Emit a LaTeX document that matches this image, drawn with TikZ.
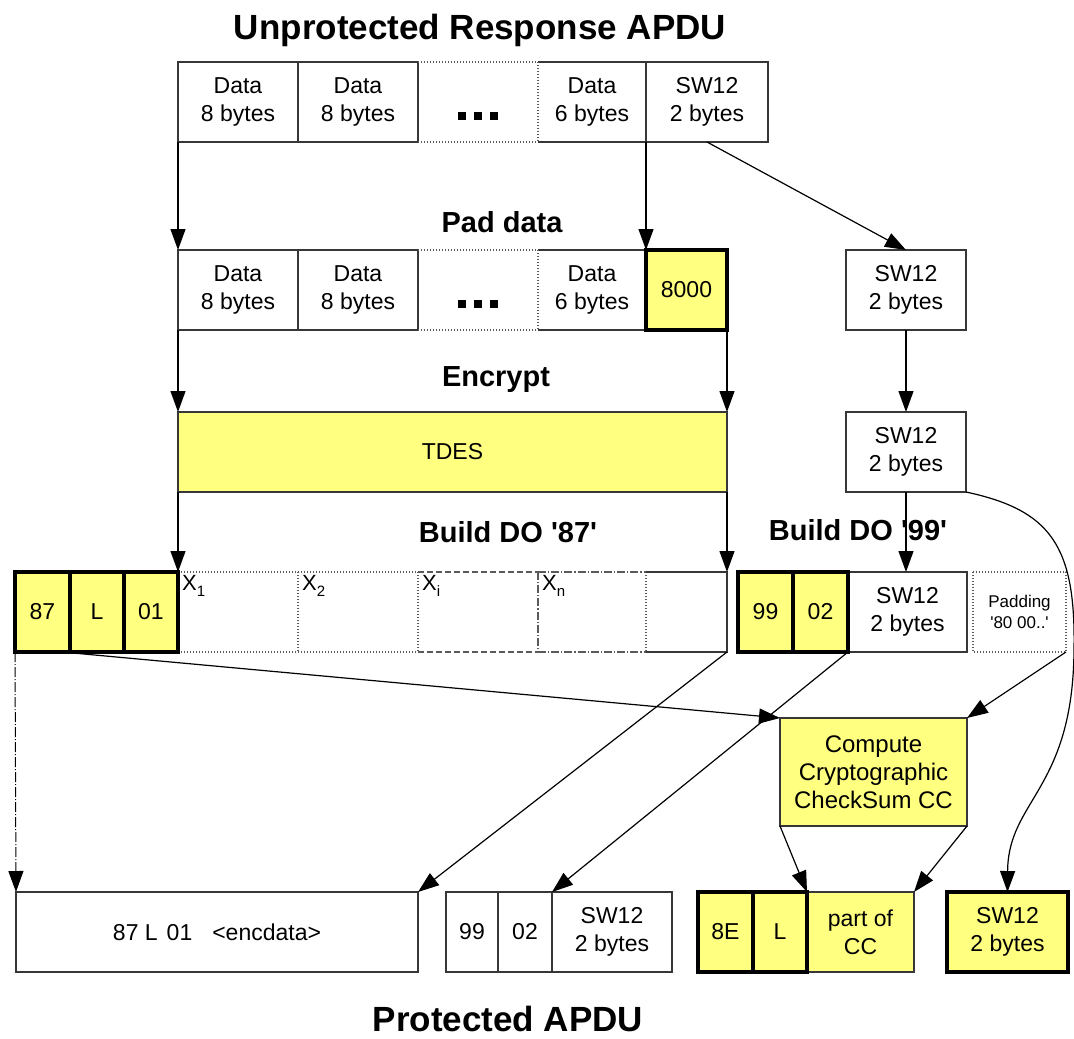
\documentclass[tikz,border=0pt]{standalone}
\usepackage{fontspec}
\setmainfont{Liberation Sans}
\usetikzlibrary{arrows.meta}
\definecolor{cellyellow}{RGB}{255,255,128}
\definecolor{linegray}{RGB}{55,55,55}
\definecolor{softgray}{RGB}{90,90,90}
\newcommand\bodyfont{\fontsize{23}{28}\selectfont}
\newcommand\headfont{\fontsize{29}{34}\selectfont\bfseries}
\newcommand\titlefont{\fontsize{35}{40}\selectfont\bfseries}
\newcommand\padfont{\fontsize{17}{21}\selectfont}
\newcommand\ccfont{\fontsize{24}{28}\selectfont}
\newcommand\xfont{\fontsize{22}{22}\selectfont}
\newcommand\sqdots{\rule{8pt}{8pt}\hspace{8pt}\rule{8pt}{8pt}\hspace{8pt}\rule{8pt}{8pt}}
\newcommand\xlab[1]{X\raisebox{-6pt}{\fontsize{15}{15}\selectfont #1}}
\begin{document}
\begin{tikzpicture}[x=1pt,y=-1pt,
  cell/.style={draw=linegray, line width=1.2pt, inner sep=0pt, outer sep=0pt,
    anchor=north west, align=center, font=\bodyfont, minimum height=80pt},
  open/.style={cell, draw=none},
  ycell/.style={cell, fill=cellyellow},
  boldcell/.style={ycell, draw=black, line width=4pt},
  title/.style={font=\titlefont, inner sep=0pt},
  head/.style={font=\headfont, inner sep=0pt},
  xlabel/.style={font=\xfont, inner sep=0pt, anchor=north west},
  sqnode/.style={inner sep=0pt},
  solidline/.style={draw=linegray, line width=1.2pt},
  dotline/.style={draw=softgray, line width=1.2pt, dash pattern=on 1.2pt off 1.8pt},
  dashline/.style={draw=softgray, line width=1.2pt, dash pattern=on 6pt off 3pt},
  ddline/.style={draw=softgray, line width=1.2pt, dash pattern=on 8pt off 2pt on 1.2pt off 2pt},
  arr/.style={draw=black, line width=1.2pt, -{Triangle[length=21pt,width=15pt]}},
]
\useasboundingbox[fill=white] (0,0) rectangle (1074,1039);

% ---------- titles ----------
\node[title] (ttop) at (480,30) {Unprotected Response APDU};
\node[head] (tpad) at (502,222) {Pad data};
\node[head] (tenc) at (496,380) {Encrypt};
\node[head] (t87) at (508,532) {Build DO \textquotesingle 87\textquotesingle};
\node[head] (t99) at (858,530) {Build DO \textquotesingle 99\textquotesingle};
\node[title] (tbot) at (508,1019) {Protected APDU};

% ---------- unprotected response ----------
\node[cell, minimum width=120pt] (t1) at (178,62) {Data\\8 bytes};
\node[cell, minimum width=120pt] (t2) at (298,62) {Data\\8 bytes};
\node[open, minimum width=120pt] (t3) at (418,62) {};
\node[open, minimum width=108pt] (t4) at (538,62) {Data\\6 bytes};
\node[cell, minimum width=122pt] (t5) at (646,62) {SW12\\2 bytes};
\node[sqnode] (tdots) at ([yshift=-14pt]t3.center) {\sqdots};
\draw[dotline] (t3.north west) -- (t3.north east) (t3.south west) -- (t3.south east);
\draw[solidline] (t4.north west) -- (t4.north east) -- (t4.south east) -- (t4.south west);
\draw[dotline] (t4.north west) -- (t4.south west);

% ---------- padded data ----------
\node[cell, minimum width=120pt] (p1) at (178,250) {Data\\8 bytes};
\node[cell, minimum width=120pt] (p2) at (298,250) {Data\\8 bytes};
\node[open, minimum width=120pt] (p3) at (418,250) {};
\node[open, minimum width=108pt] (p4) at (538,250) {Data\\6 bytes};
\node[sqnode] (pdots) at ([yshift=-14pt]p3.center) {\sqdots};
\draw[dotline] (p3.north west) -- (p3.north east) (p3.south west) -- (p3.south east);
\draw[solidline] (p4.north west) -- (p4.north east) -- (p4.south east) -- (p4.south west);
\draw[dotline] (p4.north west) -- (p4.south west);
\node[boldcell, minimum width=81pt] (p5) at (646,250) {8000};

% ---------- status word column ----------
\node[cell, minimum width=120pt] (s1) at (846,250) {SW12\\2 bytes};
\node[cell, minimum width=120pt] (s2) at (846,412) {SW12\\2 bytes};

% ---------- encryption ----------
\node[ycell, minimum width=549pt] (tdes) at (178,412) {TDES};

% ---------- DO '87' ----------
\node[open, minimum width=120pt] (x1) at (178,572) {};
\node[open, minimum width=120pt] (x2) at (298,572) {};
\node[open, minimum width=120pt] (x3) at (418,572) {};
\node[open, minimum width=108pt] (x4) at (538,572) {};
\node[open, minimum width=81pt] (x5) at (646,572) {};
\draw[dotline] (x1.north west) -- (x1.north east) (x1.south west) -- (x1.south east) (x1.north east) -- (x1.south east);
\draw[dotline] (x2.north west) -- (x2.north east) (x2.south west) -- (x2.south east) (x2.north east) -- (x2.south east);
\draw[dashline] (x3.north west) -- (x3.north east) (x3.south west) -- (x3.south east);
\draw[ddline] (x3.north east) -- (x3.south east);
\draw[ddline] (x4.north west) -- (x4.north east) (x4.south west) -- (x4.south east);
\draw[dotline] (x4.north east) -- (x4.south east);
\draw[solidline] (x5.north west) -- (x5.north east) -- (x5.south east) -- (x5.south west);
\node[xlabel] (lx1) at ([xshift=4pt,yshift=-3pt]x1.north west) {\xlab{1}};
\node[xlabel] (lx2) at ([xshift=4pt,yshift=-3pt]x2.north west) {\xlab{2}};
\node[xlabel] (lx3) at ([xshift=4pt,yshift=-3pt]x3.north west) {\xlab{i}};
\node[xlabel] (lx4) at ([xshift=4pt,yshift=-3pt]x4.north west) {\xlab{n}};
\node[boldcell, minimum width=55pt] (a1) at (15,572) {87};
\node[boldcell, minimum width=54pt] (a2) at (70,572) {L};
\node[boldcell, minimum width=54pt] (a3) at (124,572) {01};

% ---------- DO '99' ----------
\node[cell, minimum width=119pt] (b3) at (848,572) {SW12\\2 bytes};
\node[open, minimum width=93pt, font=\padfont] (b4) at (973,572) {Padding\\\textquotesingle 80 00..\textquotesingle};
\draw[dotline] (b4.north west) rectangle (b4.south east);
\node[boldcell, minimum width=55pt] (b1) at (738,572) {99};
\node[boldcell, minimum width=55pt] (b2) at (793,572) {02};

% ---------- checksum ----------
\node[ycell, minimum width=187pt, minimum height=108pt, font=\ccfont] (cc) at (780,718) {Compute\\Cryptographic\\CheckSum CC};

% ---------- protected response ----------
\node[cell, minimum width=402pt] (e1) at (16,892) {87 L\hspace{9pt}01\hspace{20pt}<encdata>};
\node[cell, minimum width=52pt] (f1) at (446,892) {99};
\node[cell, minimum width=54pt] (f2) at (498,892) {02};
\node[cell, minimum width=120pt] (f3) at (552,892) {SW12\\2 bytes};
\node[ycell, minimum width=107pt] (g3) at (807,892) {part of\\CC};
\node[boldcell, minimum width=55pt] (g1) at (698,892) {8E};
\node[boldcell, minimum width=54pt] (g2) at (753,892) {L};
\node[boldcell, minimum width=121pt] (h1) at (947,892) {SW12\\2 bytes};

% ---------- connectors ----------
\draw[arr] (t1.south west) -- (p1.north west);
\draw[arr] (t5.south west) -- (p5.north west);
\draw[arr] (t5.south) -- (s1.north);
\draw[arr] (p1.south west) -- (tdes.north west);
\draw[arr] (p5.south east) -- (tdes.north east);
\draw[arr] (s1.south) -- (s2.north);
\draw[arr] (tdes.south west) -- (x1.north west);
\draw[arr] (tdes.south east) -- (x5.north east);
\draw[arr] (s2.south) -- (s2.south |- b3.north);
\draw[arr] (s2.south east) .. controls (1050,510) and (1076,545) .. (1074,650)
  .. controls (1073,790) and (1008,800) .. (h1.north);
\draw[arr] ([xshift=-8pt]a1.south east) -- (cc.north west);
\draw[arr] (b4.south east) -- (cc.north east);
\draw[arr] (x5.south east) -- (e1.north east);
\draw[arr] (b2.south east) -- (f2.north east);
\draw[arr] (cc.south west) -- (g2.north east);
\draw[arr] (cc.south east) -- (g3.north east);
\draw[arr, line width=1pt, dash pattern=on 10pt off 2pt on 1pt off 2pt] (a1.south west) -- (e1.north west);
\end{tikzpicture}
\end{document}
